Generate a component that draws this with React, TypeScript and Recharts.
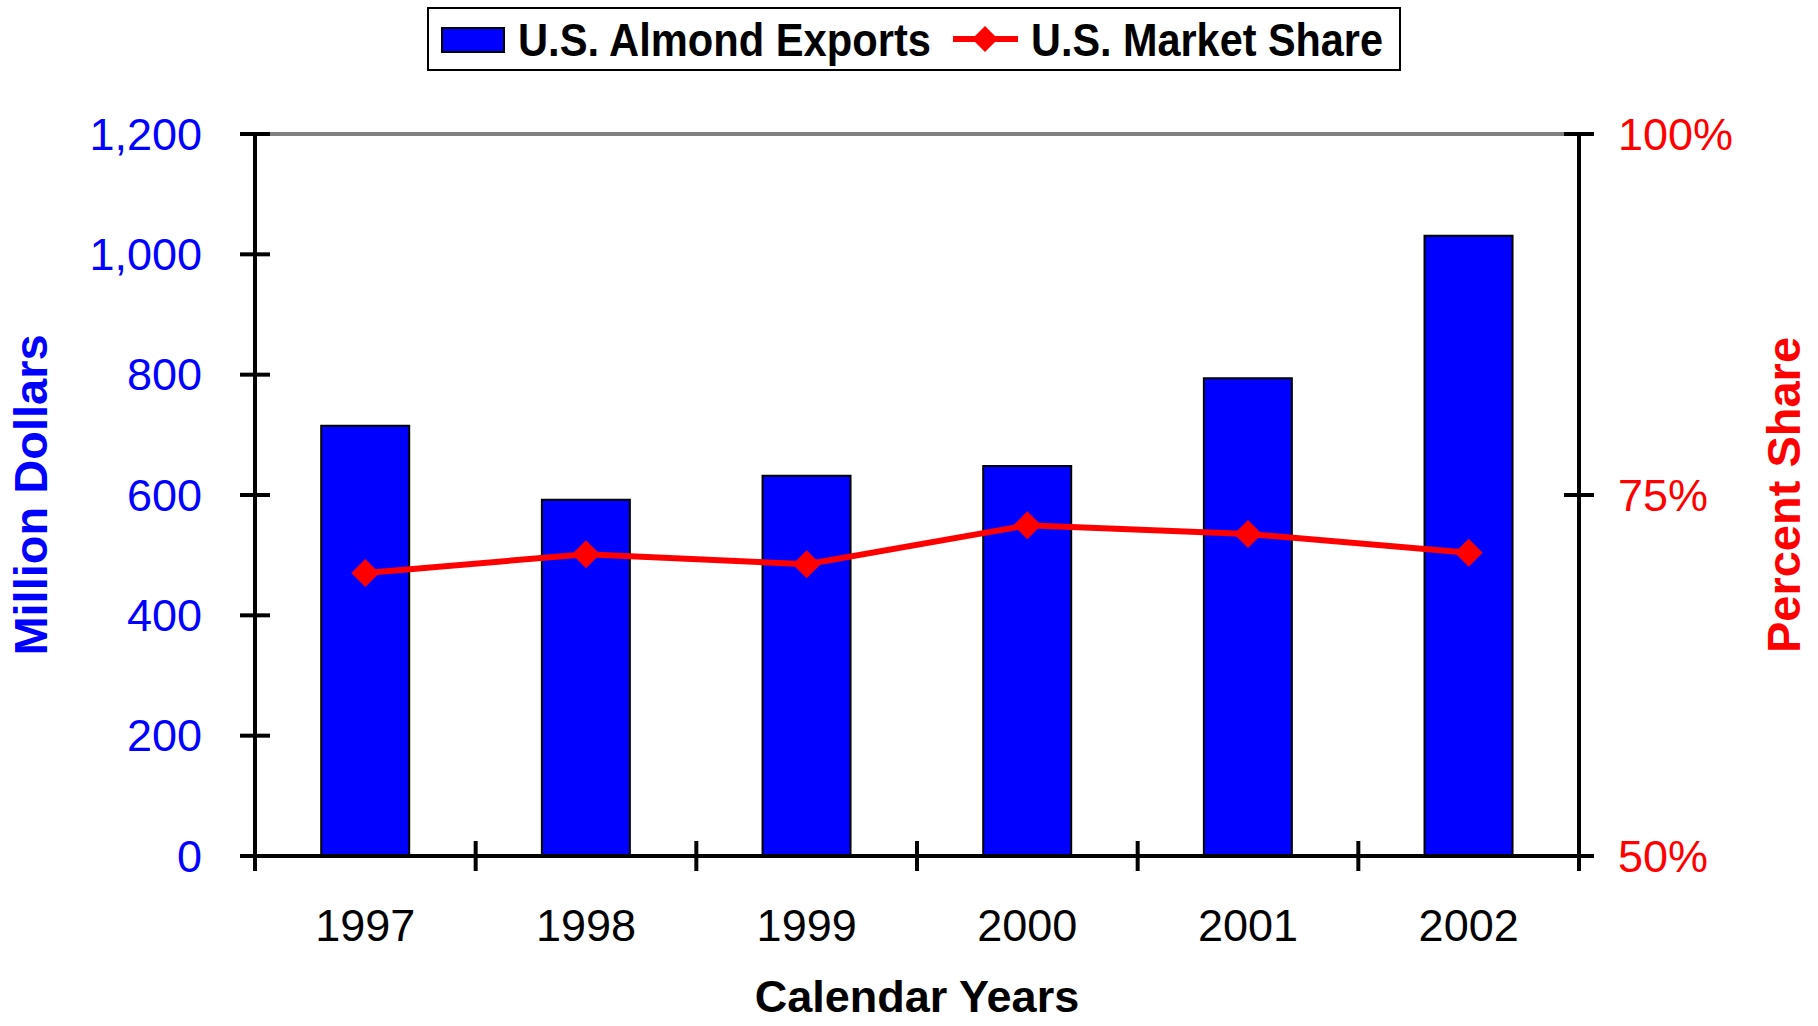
import React from 'react';
import { ComposedChart, Bar, Line, XAxis, YAxis, ReferenceLine, Legend, Label } from 'recharts';

const years = ['1997', '1998', '1999', '2000', '2001', '2002'];
const exportsMillion = [715, 592, 632, 648, 794, 1031];
const marketShare = [69.6, 70.9, 70.2, 72.9, 72.3, 71.0];
const dollarTicks = [0, 200, 400, 600, 800, 1000, 1200];
const shareTicks = [50, 75, 100];
const seriesNames = ['U.S. Almond Exports', 'U.S. Market Share'];

const data = years.map((year, i) => ({
  year,
  exports: exportsMillion[i],
  share: marketShare[i],
}));

const FONT = '"Liberation Sans", Arial, Helvetica, sans-serif';
const BLUE = '#0000FF';
const RED = '#FF0000';
const TICK = 15;
const LEFT_GAP = 38;
const RIGHT_GAP = 24;
const X_GAP = 10;

const LeftTick = (props: any) => {
  const { x, y, payload } = props;
  const ax = x + TICK + LEFT_GAP;
  return (
    <g>
      <line x1={ax - TICK} x2={ax + TICK} y1={y} y2={y} stroke="#000" strokeWidth={4} />
      <text x={ax - TICK - LEFT_GAP} y={y} dy="0.35em" textAnchor="end" fill={BLUE} fontSize={45} fontFamily={FONT}>
        {Number(payload.value).toLocaleString('en-US')}
      </text>
    </g>
  );
};

const RightTick = (props: any) => {
  const { x, y, payload } = props;
  const ax = x - TICK - RIGHT_GAP;
  return (
    <g>
      <line x1={ax - TICK} x2={ax + TICK} y1={y} y2={y} stroke="#000" strokeWidth={4} />
      <text x={ax + TICK + RIGHT_GAP} y={y} dy="0.35em" textAnchor="start" fill={RED} fontSize={45} fontFamily={FONT}>
        {payload.value}%
      </text>
    </g>
  );
};

const YearTick = (props: any) => {
  const { x, y, payload, index, visibleTicksCount } = props;
  const ay = y - TICK - X_GAP;
  const half = payload.offset || 0;
  return (
    <g>
      <line x1={x - half} x2={x - half} y1={ay - TICK} y2={ay + TICK} stroke="#000" strokeWidth={4} />
      {index === visibleTicksCount - 1 && (
        <line x1={x + half} x2={x + half} y1={ay - TICK} y2={ay + TICK} stroke="#000" strokeWidth={4} />
      )}
      <text x={x} y={ay + 85} textAnchor="middle" fill="#000" fontSize={45} fontFamily={FONT}>
        {payload.value}
      </text>
    </g>
  );
};

const Diamond = (props: any) => {
  const { cx, cy } = props;
  if (cx == null || cy == null) return null;
  const h = 14;
  return <polygon points={`${cx},${cy - h} ${cx + h},${cy} ${cx},${cy + h} ${cx - h},${cy}`} fill={RED} />;
};

const LegendBox = () => (
  <svg width={1818} height={80} style={{ display: 'block' }}>
    <rect x={428} y={8} width={972} height={62} fill="#fff" stroke="#000" strokeWidth={2} />
    <rect x={442} y={28} width={62} height={24} fill={BLUE} stroke="#000" strokeWidth={2} />
    <text x={518} y={56} fontSize={46} fontWeight="bold" fontFamily={FONT} textLength={413} lengthAdjust="spacingAndGlyphs">
      {seriesNames[0]}
    </text>
    <line x1={953} x2={1018} y1={39} y2={39} stroke={RED} strokeWidth={6} />
    <polygon points="985,26 998,39 985,52 972,39" fill={RED} />
    <text x={1031} y={56} fontSize={46} fontWeight="bold" fontFamily={FONT} textLength={352} lengthAdjust="spacingAndGlyphs">
      {seriesNames[1]}
    </text>
  </svg>
);

export default function App() {
  return (
    <div style={{ position: 'absolute', left: 0, top: 0, background: '#fff' }}>
      <ComposedChart
        width={1818}
        height={1026}
        data={data}
        margin={{ top: 134, right: 0, bottom: 0, left: 0 }}
        barCategoryGap="30%"
      >
        <XAxis
          dataKey="year"
          height={170}
          tickSize={TICK}
          tickMargin={X_GAP}
          tickLine={false}
          axisLine={{ stroke: '#000', strokeWidth: 4 }}
          tick={<YearTick />}
          interval={0}
        >
          <Label
            content={({ viewBox }: any) => (
              <text
                x={viewBox.x + viewBox.width / 2}
                y={viewBox.y + 156}
                textAnchor="middle"
                fontSize={45}
                fontWeight="bold"
                fontFamily={FONT}
                fill="#000"
              >
                Calendar Years
              </text>
            )}
          />
        </XAxis>
        <YAxis
          yAxisId="left"
          orientation="left"
          width={255}
          domain={[0, 1200]}
          ticks={dollarTicks}
          tickSize={TICK}
          tickMargin={LEFT_GAP}
          tickLine={false}
          axisLine={{ stroke: '#000', strokeWidth: 4 }}
          tick={<LeftTick />}
          interval={0}
        >
          <Label
            content={({ viewBox }: any) => {
              const cx = viewBox.x + 47;
              const cy = viewBox.y + viewBox.height / 2;
              return (
                <text
                  x={cx}
                  y={cy}
                  transform={`rotate(-90 ${cx} ${cy})`}
                  textAnchor="middle"
                  fontSize={47}
                  fontWeight="bold"
                  fontFamily={FONT}
                  fill={BLUE}
                >
                  Million Dollars
                </text>
              );
            }}
          />
        </YAxis>
        <YAxis
          yAxisId="right"
          orientation="right"
          width={239}
          domain={[50, 100]}
          ticks={shareTicks}
          tickSize={TICK}
          tickMargin={RIGHT_GAP}
          tickLine={false}
          axisLine={{ stroke: '#000', strokeWidth: 4 }}
          tick={<RightTick />}
          interval={0}
        >
          <Label
            content={({ viewBox }: any) => {
              const cx = viewBox.x + 221;
              const cy = viewBox.y + viewBox.height / 2;
              return (
                <text
                  x={cx}
                  y={cy}
                  transform={`rotate(-90 ${cx} ${cy})`}
                  textAnchor="middle"
                  fontSize={47}
                  fontWeight="bold"
                  fontFamily={FONT}
                  fill={RED}
                >
                  Percent Share
                </text>
              );
            }}
          />
        </YAxis>
        <ReferenceLine yAxisId="left" y={1200} stroke="#808080" strokeWidth={4} />
        <Legend
          layout="horizontal"
          verticalAlign="middle"
          align="center"
          wrapperStyle={{ position: 'absolute', top: 0, left: 0, width: 1818, height: 80 }}
          content={() => <LegendBox />}
        />
        <Bar
          yAxisId="left"
          dataKey="exports"
          name={seriesNames[0]}
          fill={BLUE}
          stroke="#000"
          strokeWidth={2}
          isAnimationActive={false}
        />
        <Line
          yAxisId="right"
          type="linear"
          dataKey="share"
          name={seriesNames[1]}
          stroke={RED}
          strokeWidth={6}
          dot={<Diamond />}
          activeDot={false}
          isAnimationActive={false}
        />
      </ComposedChart>
    </div>
  );
}
